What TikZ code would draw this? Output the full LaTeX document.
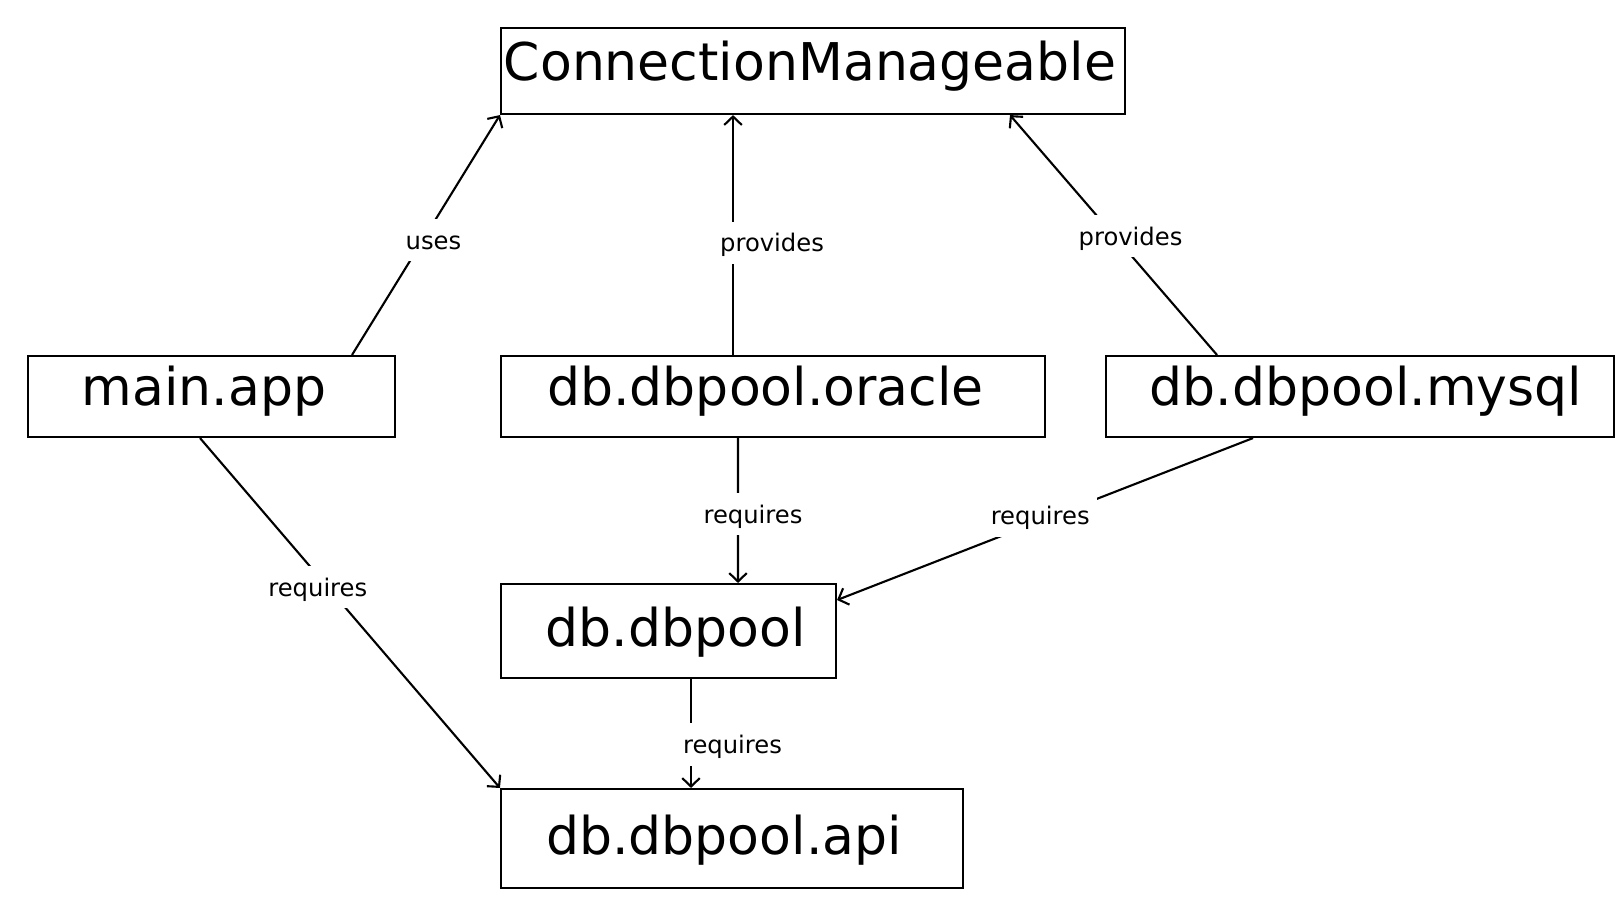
\documentclass[tikz,border=0pt]{standalone}
\usepackage{fontspec}
\setmainfont{DejaVu Sans}
\usetikzlibrary{positioning,arrows.meta}

\begin{document}
\begin{tikzpicture}[
  mod/.style={rectangle,draw,line width=0.6pt,inner sep=0pt,
    text height=0.76em,text depth=0.24em,font=\fontsize{14.8}{17}\selectfont},
  dep/.style={line width=0.6pt,-{Straight Barb[length=2.4pt,width=5pt]}},
  lbl/.style={fill=white,inner xsep=2.2pt,inner ysep=1pt,
    text height=0.76em,text depth=0.24em,font=\fontsize{6.9}{8}\selectfont}
]
\useasboundingbox (0,0) rectangle (16.2,-9.11);

% modules (hspace only nudges the name inside its box)
\node[mod,minimum width=6.24cm,minimum height=0.86cm] (cm) at (8.13,-0.71) {ConnectionManageable\hspace*{0.06cm}};
\node[mod,minimum width=3.67cm,minimum height=0.81cm] (main) at (2.115,-3.965) {main.app\hspace*{0.15cm}};
\node[mod,minimum width=5.44cm,minimum height=0.81cm] (oracle) at (7.73,-3.965) {db.dbpool.oracle\hspace*{0.15cm}};
\node[mod,minimum width=5.08cm,minimum height=0.81cm] (mysql) at (13.60,-3.965) {\hspace*{0.12cm}db.dbpool.mysql};
\node[mod,minimum width=3.35cm,minimum height=0.94cm,text height=0.76em+0.12cm] (dbpool) at (6.685,-6.31) {\hspace*{0.14cm}db.dbpool};
\node[mod,minimum width=4.62cm,minimum height=0.99cm,text height=0.76em+0.14cm] (api) at (7.32,-8.385) {db.dbpool.api\hspace*{0.16cm}};

% uses / provides
\draw[dep] ([xshift=1.405cm]main.north) -- node[lbl,pos=0.467,xshift=0.124cm,yshift=0.03cm]{uses} (cm.south west);
\draw[dep] ([xshift=-0.4cm]oracle.north) -- node[lbl,pos=0.455,xshift=0.39cm,yshift=0.03cm]{provides} ([xshift=-0.8cm]cm.south);
\draw[dep] ([xshift=-1.43cm]mysql.north) -- node[lbl,pos=0.483,xshift=0.135cm,yshift=0.03cm]{provides} ([xshift=1.97cm]cm.south);

% requires
\draw[dep] ([xshift=-0.115cm]main.south) -- node[lbl,pos=0.426,xshift=-0.1cm]{requires} (api.north west);
\draw[dep] ([xshift=-0.35cm]oracle.south) -- node[lbl,pos=0.524,xshift=0.15cm]{requires} ([xshift=0.695cm]dbpool.north);
\draw[dep] ([xshift=-1.07cm]mysql.south) -- node[lbl,pos=0.49,xshift=-0.09cm,yshift=0.02cm]{requires} ([yshift=0.31cm]dbpool.east);
\draw[dep] ([xshift=0.225cm]dbpool.south) -- node[lbl,pos=0.6,xshift=0.415cm]{requires} ([xshift=-0.41cm]api.north);

\end{tikzpicture}
\end{document}
